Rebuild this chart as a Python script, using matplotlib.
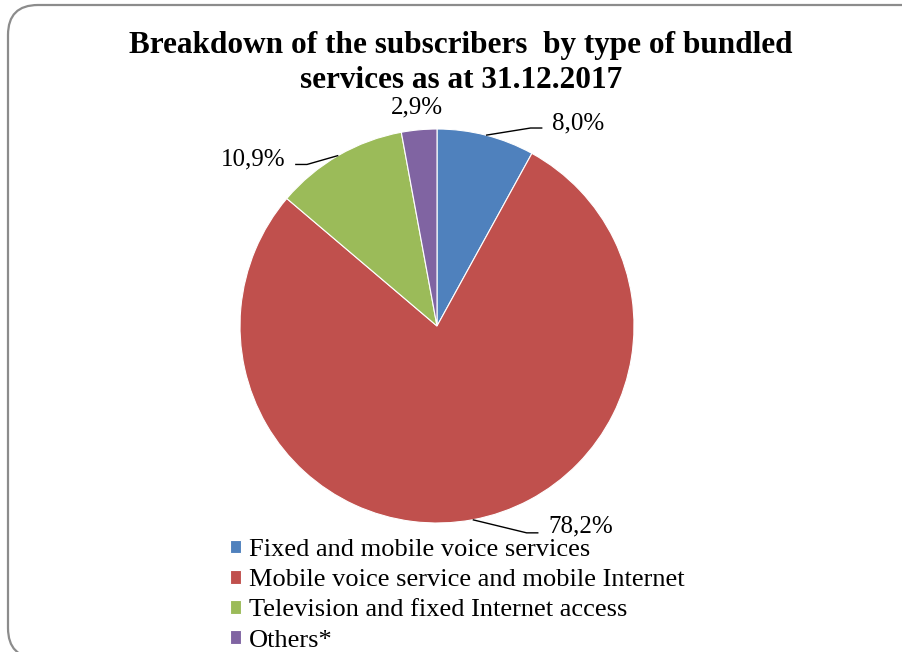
import numpy as np
import matplotlib
matplotlib.use("Agg")
import matplotlib.pyplot as plt
from matplotlib.patches import FancyBboxPatch

plt.rcParams['font.family'] = ['Liberation Serif', 'DejaVu Serif']

# subscribers by type of bundled services, 31.12.2017 (%)
categories = ['Fixed and mobile voice services',
              'Mobile voice service and mobile Internet',
              'Television and fixed Internet access',
              'Others*']
shares = [8.0, 78.2, 10.9, 2.9]
colors = ['#4f81bd', '#c0504d', '#9bbb59', '#8064a2']

W, H = 903, 652
fig = plt.figure(figsize=(W / 100, H / 100), dpi=100)

# rounded chart-area border (inches), kept behind the axes
box = FancyBboxPatch((0.08, -0.06), 9.25, 6.53,
                     boxstyle="round,pad=0,rounding_size=0.30",
                     transform=fig.dpi_scale_trans, facecolor='none',
                     edgecolor='#8c8c8c', linewidth=1.6, zorder=-10)
fig.patches.append(box)

fig.text(461 / W, 1 - 63 / H,
         'Breakdown of the subscribers  by type of bundled\nservices as at 31.12.2017',
         ha='center', va='center', fontsize=22.5, fontweight='bold',
         linespacing=1.3)

# pie axes: centre (437, 326) px, radius 197 px
r = 197
ax = fig.add_axes([(437 - r) / W, (H - 326 - r) / H, 2 * r / W, 2 * r / H])
wedges, _ = ax.pie(shares, colors=colors, startangle=90, counterclock=False,
                   radius=1, wedgeprops=dict(linewidth=0.8, edgecolor='white'))
ax.set_xlim(-1, 1)
ax.set_ylim(-1, 1)
ax.set_aspect('equal')
ax.axis('off')

# label anchor (x, y) in pie radii, alignment, and whether a leader line is drawn
label_pos = [(0.585, 1.03, 'left', True),
             (0.565, -1.02, 'left', True),
             (-0.77, 0.845, 'right', True),
             (-0.10, 1.11, 'center', False)]

for w, val, (lx, ly, ha, leader) in zip(wedges, shares, label_pos):
    mid = np.deg2rad((w.theta1 + w.theta2) / 2)
    ex, ey = np.cos(mid), np.sin(mid)
    text = '{:.1f}%'.format(val).replace('.', ',')
    ax.text(lx, ly, text, ha=ha, va='center', fontsize=18, clip_on=False)
    if leader:
        sgn = 1 if ha == 'left' else -1
        end_x = lx - sgn * 0.05
        elbow_x = end_x - sgn * 0.06
        ly_line = ly - 0.03 if ha == 'left' and ly < 0 else ly - 0.025
        ax.plot([ex, elbow_x, end_x], [ey, ly_line, ly_line], color='black',
                linewidth=1.0, clip_on=False, solid_capstyle='butt')

fig.legend(wedges, categories, loc='upper left',
           bbox_to_anchor=(230 / W, 1 - 539 / H), frameon=False,
           fontsize=19, handlelength=0.42, handleheight=0.42,
           handletextpad=0.3, labelspacing=0.31, borderpad=0,
           borderaxespad=0)

fig.savefig('out.png', dpi=100)
